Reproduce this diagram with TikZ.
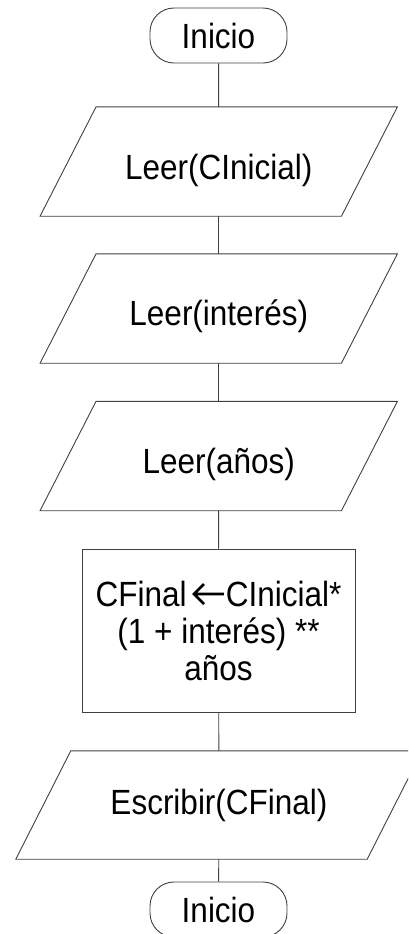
\documentclass[tikz,border=0pt]{standalone}
\usepackage{fontspec}
\setmainfont{Liberation Sans}[FakeStretch=0.9]
% assignment arrow, drawn with strokes as heavy as the letters
\newcommand{\assignarrow}{\kern6pt\tikz[x=1pt,y=1pt,baseline=0pt]
  \draw[line width=2.6pt, line join=miter] (11,22) -- (1,12) -- (11,2)
    (1,12) -- (31,12);\kern0.5pt}
\begin{document}
\begin{tikzpicture}[x=1pt,y=-1pt,
  every node/.style={font=\fontsize{35}{37}\selectfont, text=black},
  outline/.style={draw=black!75, line width=0.9pt},
  terminal/.style={outline, rectangle, rounded corners=24pt,
    minimum width=137pt, minimum height=55pt, inner sep=0pt},
  % text holder of a data box; its slanted outline is drawn below
  io/.style={rectangle, minimum width=301pt, minimum height=109pt,
    inner sep=0pt},
  process/.style={outline, rectangle, minimum width=273pt,
    minimum height=163pt, align=center, inner sep=0pt},
  link/.style={draw=black!75, line width=0.9pt}]

\useasboundingbox (0,0) rectangle (408,934);
\clip (0,0) rectangle (408,934);

\node[terminal] (start) at (218.5,35.5) {Inicio};
\node[io, text height=35pt, text depth=0pt] (readC) at (218.75,161.5) {Leer(CInicial)};
\node[io, text height=33pt, text depth=0pt] (readI) at (218.75,308.5) {Leer(interés)};
\node[io, text height=35pt, text depth=0pt] (readA) at (218.75,456) {Leer(años)};
\node[process] (calc) at (218.5,630.5)
  {CFinal\assignarrow CInicial*\\(1 + interés) **\\años};
\node[io, minimum width=351pt, minimum height=108pt] (write) at (219,805) {Escribir(CFinal)};
\node[terminal] (stop) at (218.5,909.5) {Inicio};

% slanted outlines of the data boxes
\foreach \n/\s in {readC/28, readI/28, readA/28, write/27.5}
  \draw[outline] ([xshift=\s pt]\n.north west) -- ([xshift=\s pt]\n.north east)
    -- ([xshift=-\s pt]\n.south east) -- ([xshift=-\s pt]\n.south west) -- cycle;

\draw[link] (start) -- (readC);
\draw[link] (readC) -- (readI);
\draw[link] (readI) -- (readA);
\draw[link] (readA) -- (calc);
\draw[link] (calc) -- (write);
\draw[link] (write) -- (stop);
\end{tikzpicture}
\end{document}
